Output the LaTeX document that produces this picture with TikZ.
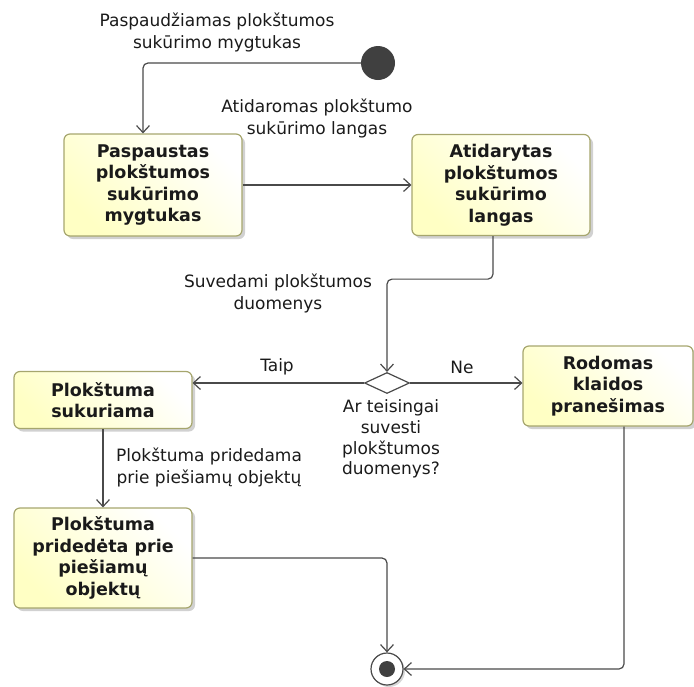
\documentclass[tikz,border=0pt]{standalone}
\usepackage{fontspec}
\setmainfont{DejaVu Sans}
\usetikzlibrary{arrows.meta,shapes.geometric,shadows}
\definecolor{linec}{HTML}{4A4A4A}
\definecolor{boxline}{HTML}{A6A66E}
\definecolor{boxfill}{HTML}{FFFFC4}
\definecolor{dotc}{HTML}{404040}
\definecolor{txt}{HTML}{1A1A1A}

\begin{document}
\begin{tikzpicture}[x=1pt,y=-1pt,
  lbl/.style={align=center, inner sep=0pt, text=txt,
    font=\fontsize{17}{22}\selectfont},
  act/.style={rectangle, rounded corners=6pt, draw=boxline, line width=1.2pt,
    top color=white, bottom color=boxfill, shading angle=-45,
    drop shadow={shadow xshift=3pt, shadow yshift=-3pt, fill=black!30, opacity=0.6},
    align=center, inner sep=0pt, text=txt,
    font=\bfseries\fontsize{17.5}{21.5}\selectfont},
  flow/.style={draw=linec, line width=1.2pt, rounded corners=5pt,
    -{Straight Barb[length=7pt,width=13pt]}},
  startnode/.style={circle, fill=dotc, minimum size=34pt, inner sep=0pt},
  endnode/.style={circle, draw=linec, fill=white, line width=1.2pt,
    minimum size=32pt, inner sep=0pt,
    drop shadow={shadow xshift=2pt, shadow yshift=-2pt, fill=black!30, opacity=0.5}},
  choice/.style={diamond, draw=linec, fill=white, line width=1.2pt,
    minimum width=45pt, minimum height=21pt, inner sep=0pt}
]
\useasboundingbox (0,0) rectangle (694,686);

% activity nodes
\node[startnode] (init) at (378,63) {};
\node[act, minimum width=178pt, minimum height=102pt] (b1) at (153,185)
  {Paspaustas\\plokštumos\\sukūrimo\\mygtukas};
\node[act, minimum width=178pt, minimum height=101pt] (b2) at (501,185)
  {Atidarytas\\plokštumos\\sukūrimo\\langas};
\node[choice] (dec) at (387,383) {};
\node[act, minimum width=178pt, minimum height=57pt] (b3) at (103,400)
  {Plokštuma\\sukuriama};
\node[act, minimum width=170pt, minimum height=80pt] (b4) at (608,386)
  {Rodomas\\klaidos\\pranešimas};
\node[act, minimum width=178pt, minimum height=100pt] (b5) at (103,558)
  {Plokštuma\\pridedėta prie\\piešiamų\\objektų};
\node[endnode] (final) at (387,669) {};
\fill[dotc] (final.center) circle (8pt);

% flow labels
\node[lbl] (l1) at (217,32.5) {Paspaudžiamas plokštumos\\sukūrimo mygtukas};
\node[lbl] (l2) at (317,118) {Atidaromas plokštumo\\sukūrimo langas};
\node[lbl] (l3) at (278,293) {Suvedami plokštumos\\duomenys};
\node[lbl] (l4) at (277,367) {Taip};
\node[lbl] (l5) at (462,367) {Ne};
\node[lbl, font=\fontsize{17}{20.7}\selectfont] (l6) at (391,439)
  {Ar teisingai\\suvesti\\plokštumos\\duomenys?};
\node[lbl] (l7) at (209,467) {Plokštuma pridedama\\prie piešiamų objektų};

% transitions
\draw[flow] (init.west) -| ([xshift=-10pt]b1.north);
\draw[flow] (b1.east) -- (b2.west);
\draw[flow] ([xshift=-8pt]b2.south) -- ++(0,43) -| (dec.north);
\draw[flow] (dec.west) -- (dec.west -| b3.east);
\draw[flow] (dec.east) -- (dec.east -| b4.west);
\draw[flow] (b3.south) -- (b5.north);
\draw[flow] (b5.east) -| (final.north);
\draw[flow] ([xshift=16pt]b4.south) |- (final.east);
\end{tikzpicture}
\end{document}
